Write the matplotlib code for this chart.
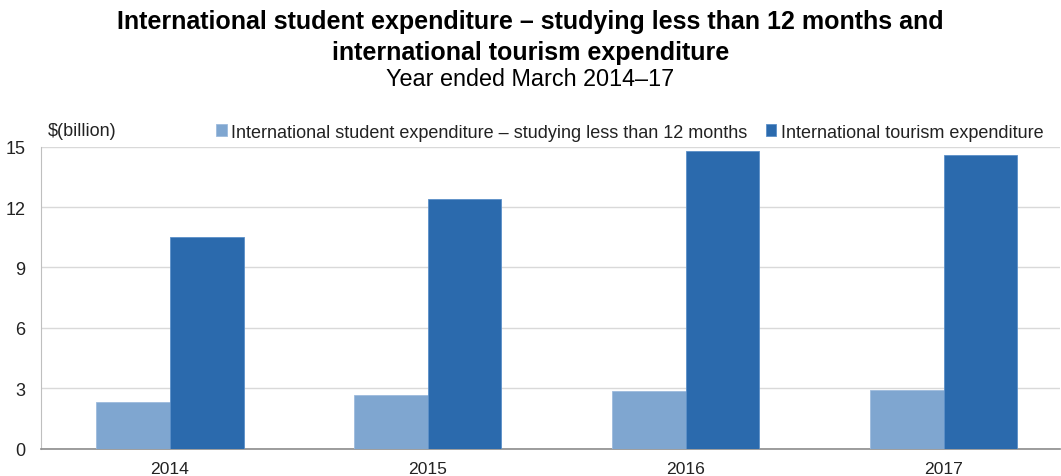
import matplotlib
matplotlib.use("Agg")
import matplotlib.pyplot as plt
import numpy as np

plt.rcParams['font.family'] = ['Liberation Sans', 'DejaVu Sans']

years = ["2014", "2015", "2016", "2017"]
student_exp = [2.33, 2.68, 2.88, 2.92]
tourism_exp = [10.50, 12.38, 14.78, 14.61]
series_names = ["International student expenditure \u2013 studying less than 12 months",
                "International tourism expenditure"]
yticks = [0, 3, 6, 9, 12, 15]

light = "#7FA6D0"
dark = "#2B6AAD"

fig = plt.figure(figsize=(10.61, 4.77), dpi=100)
ax = fig.add_axes([41 / 1061, 1 - 449.5 / 477, (1060 - 41) / 1061, (449.5 - 147.7) / 477])

x = np.arange(len(years))
w = 0.285
ax.bar(x - w / 2, student_exp, w, color=light, edgecolor="#9DBBDD", linewidth=0.6,
       label=series_names[0], zorder=3)
ax.bar(x + w / 2, tourism_exp, w, color=dark, edgecolor="#5B8FC8", linewidth=0.6,
       label=series_names[1], zorder=3)

ax.set_xlim(-0.5, 3.45)
ax.set_ylim(0, 15)
ax.set_yticks(yticks)
ax.set_xticks(x)
ax.set_xticklabels(years)
ax.tick_params(axis="both", length=0, labelsize=13, colors="#222222")
ax.tick_params(axis="x", labelsize=12.6, pad=9)
ax.tick_params(axis="y", pad=11)
ax.grid(axis="y", color="#D9D9D9", linewidth=1, zorder=0)
for s in ["top", "right"]:
    ax.spines[s].set_visible(False)
ax.spines["left"].set_color("#BFBFBF")
ax.spines["bottom"].set_color("#8C8C8C")
ax.spines["bottom"].set_linewidth(1.2)

fig.text(48 / 1061, 1 - 131 / 477, "$(billion)", fontsize=13, ha="left", va="center", color="#222222")

leg = fig.legend(loc="center left", bbox_to_anchor=(216 / 1061, 1 - 133 / 477), ncol=2,
                 frameon=False, fontsize=13, handlelength=0.6, handleheight=0.6,
                 handletextpad=0.25, columnspacing=1.0, borderpad=0, borderaxespad=0)
for t in leg.get_texts():
    t.set_color("#222222")

fig.text(0.5, 1 - 22 / 477, "International student expenditure \u2013 studying less than 12 months and",
         ha="center", va="center", fontsize=18, fontweight="bold", color="black")
fig.text(0.5, 1 - 53 / 477, "international tourism expenditure",
         ha="center", va="center", fontsize=18, fontweight="bold", color="black")
fig.text(0.5, 1 - 80 / 477, "Year ended March 2014\u201317",
         ha="center", va="center", fontsize=16.8, color="black")

fig.savefig("out.png", dpi=100)
